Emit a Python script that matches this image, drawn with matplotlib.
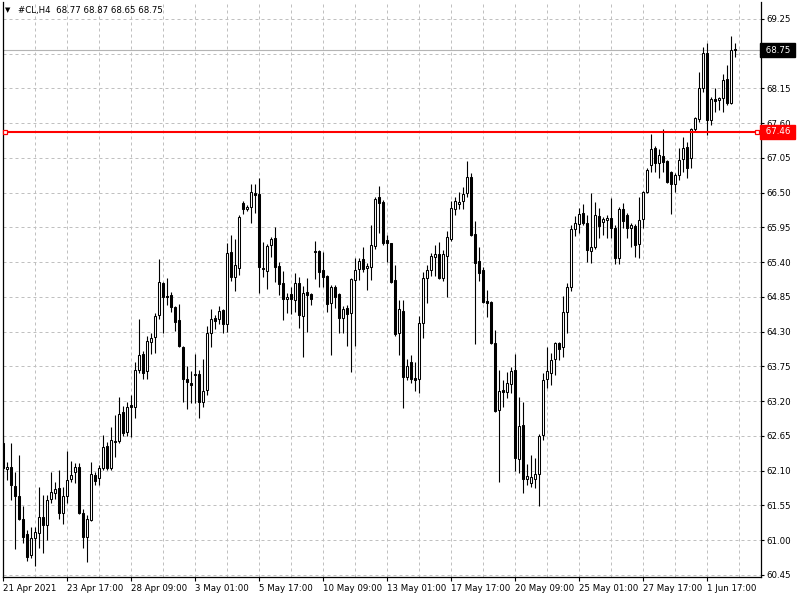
import matplotlib
matplotlib.use('Agg')
import matplotlib.pyplot as plt
import numpy as np

# H4 bars, oldest first
symbol = '#CL,H4'
opens = [62.54, 62.13, 62.16, 61.86, 61.70, 61.34, 61.10, 60.77, 61.04, 61.11,
         61.37, 61.24, 61.65, 61.75, 61.83, 61.43, 61.70, 61.97, 62.08, 62.16,
         61.43, 61.05, 61.32, 62.03, 61.98, 62.14, 62.49, 62.14, 62.57, 62.57,
         63.03, 62.71, 63.14, 63.11, 63.69, 63.95, 63.68, 64.14, 64.22, 64.56,
         65.07, 64.86, 64.88, 64.69, 64.49, 64.06, 63.55, 63.49, 63.61, 63.63,
         63.19, 63.38, 64.28, 64.52, 64.50, 64.64, 64.42, 65.56, 65.17, 65.31,
         66.34, 66.24, 66.27, 66.49, 66.48, 65.31, 65.26, 65.67, 65.78, 65.34,
         65.07, 64.82, 64.90, 64.80, 65.07, 64.55, 64.93, 64.90, 65.58, 65.58,
         65.28, 65.18, 64.75, 65.01, 64.90, 64.52, 64.67, 64.60, 65.12, 65.29,
         65.45, 65.31, 65.32, 65.66, 66.43, 66.35, 65.75, 65.70, 65.12, 64.28,
         64.63, 63.58, 63.82, 63.57, 63.55, 64.44, 65.15, 65.28, 65.48, 65.53,
         65.15, 65.50, 65.77, 66.24, 66.32, 66.37, 66.49, 66.75, 65.85, 65.42,
         65.28, 64.79, 64.77, 64.12, 63.06, 63.38, 63.35, 63.47, 63.69, 62.29,
         62.82, 61.97, 61.91, 61.97, 62.05, 62.67, 63.55, 63.65, 63.87, 64.12,
         64.06, 64.61, 65.01, 65.92, 66.00, 66.18, 66.02, 65.58, 65.64, 66.13,
         66.04, 66.07, 66.10, 65.94, 65.47, 66.24, 66.15, 65.94, 65.97, 65.69,
         66.08, 66.51, 66.94, 67.21, 66.97, 67.08, 67.00, 66.83, 66.64, 66.78,
         67.03, 67.22, 67.05, 67.51, 67.67, 68.16, 68.71, 67.65, 67.98, 67.97,
         68.00, 68.30, 67.92, 68.77]
highs = [62.67, 62.24, 62.54, 62.08, 62.35, 61.54, 61.16, 61.21, 61.21, 61.84,
         61.72, 61.72, 62.08, 61.92, 62.11, 61.84, 62.41, 62.25, 62.22, 62.22,
         61.49, 61.40, 62.24, 62.08, 62.19, 62.67, 62.55, 62.79, 62.98, 63.27,
         63.12, 63.19, 63.30, 63.82, 64.50, 63.99, 64.23, 64.28, 64.60, 65.45,
         65.09, 65.15, 64.93, 64.71, 64.74, 64.08, 63.76, 63.68, 63.95, 63.69,
         63.87, 64.39, 64.66, 64.56, 64.71, 64.66, 65.70, 65.83, 65.77, 66.15,
         66.37, 66.31, 66.64, 66.64, 66.73, 65.72, 65.68, 65.80, 65.96, 65.40,
         65.26, 64.91, 65.01, 65.23, 65.17, 65.02, 65.15, 64.91, 65.74, 65.59,
         65.56, 65.20, 65.04, 65.04, 64.91, 64.71, 64.72, 65.15, 65.47, 65.47,
         65.64, 65.39, 65.99, 66.43, 66.61, 66.38, 65.83, 65.71, 65.36, 64.80,
         64.80, 63.87, 63.93, 63.82, 64.55, 65.24, 65.36, 65.55, 65.67, 65.72,
         65.59, 65.89, 66.37, 66.43, 66.51, 66.59, 67.00, 66.81, 66.05, 65.64,
         65.32, 64.96, 64.78, 64.32, 63.69, 63.54, 63.66, 63.74, 63.95, 63.27,
         63.19, 62.21, 62.35, 62.30, 62.68, 63.65, 64.06, 63.96, 64.14, 64.14,
         64.86, 65.07, 65.99, 66.13, 66.26, 66.32, 66.15, 66.49, 66.35, 66.26,
         66.11, 66.15, 66.42, 65.99, 66.27, 66.34, 66.18, 66.02, 66.00, 66.43,
         66.52, 66.89, 67.43, 67.24, 67.19, 67.51, 67.02, 66.84, 66.81, 67.21,
         67.38, 67.30, 67.52, 67.69, 68.41, 68.80, 68.87, 68.01, 68.16, 68.01,
         68.38, 68.52, 68.98, 68.87]
lows = [61.98, 61.95, 61.64, 60.86, 61.32, 60.96, 60.67, 60.72, 60.59, 60.88,
        60.80, 61.00, 61.59, 61.65, 61.34, 61.26, 61.59, 61.92, 61.91, 61.41,
        60.88, 60.66, 61.31, 61.87, 61.87, 62.11, 62.11, 62.11, 62.32, 62.54,
        62.65, 62.65, 62.63, 62.93, 63.65, 63.55, 63.55, 63.95, 63.96, 64.50,
        64.28, 64.72, 64.61, 64.31, 64.06, 63.19, 63.08, 63.17, 63.17, 62.93,
        63.11, 63.30, 64.06, 64.34, 64.42, 64.28, 64.30, 65.10, 64.94, 65.20,
        66.16, 66.21, 66.02, 66.18, 64.91, 65.17, 64.98, 65.48, 65.09, 64.88,
        64.49, 64.60, 64.58, 64.61, 64.36, 63.90, 64.30, 64.72, 65.13, 65.01,
        65.01, 64.61, 63.93, 64.67, 64.28, 64.28, 64.07, 63.66, 64.07, 65.12,
        65.24, 64.96, 65.12, 65.61, 65.86, 65.67, 65.40, 65.07, 64.23, 63.93,
        63.09, 63.54, 63.49, 63.36, 63.33, 64.20, 64.75, 65.18, 65.18, 65.13,
        65.10, 64.85, 65.74, 66.15, 66.24, 66.24, 66.43, 65.81, 64.10, 65.10,
        64.75, 64.53, 64.10, 63.03, 61.92, 63.11, 63.25, 63.33, 62.10, 62.06,
        61.75, 61.87, 61.84, 61.83, 61.54, 62.59, 63.41, 63.46, 63.61, 63.85,
        63.90, 64.28, 64.94, 65.81, 65.86, 65.99, 65.40, 65.39, 65.61, 65.78,
        65.83, 65.78, 65.78, 65.37, 65.37, 65.94, 65.78, 65.64, 65.48, 65.47,
        65.94, 66.50, 66.83, 66.83, 66.73, 66.83, 66.66, 66.16, 66.51, 66.70,
        66.83, 66.73, 66.89, 67.46, 67.62, 68.09, 67.41, 67.57, 67.78, 67.81,
        67.78, 67.89, 67.90, 68.65]
closes = [62.14, 62.16, 61.87, 61.70, 61.34, 61.05, 60.73, 61.04, 61.13, 61.37,
          61.24, 61.64, 61.76, 61.81, 61.43, 61.70, 61.95, 62.03, 62.16, 61.43,
          61.05, 61.34, 62.05, 61.94, 62.14, 62.48, 62.14, 62.59, 62.55, 63.00,
          62.70, 63.11, 63.11, 63.69, 63.93, 63.65, 64.15, 64.20, 64.55, 65.09,
          64.85, 64.85, 64.69, 64.45, 64.07, 63.55, 63.50, 63.46, 63.63, 63.19,
          63.36, 64.28, 64.50, 64.47, 64.63, 64.42, 65.55, 65.17, 65.36, 66.11,
          66.24, 66.27, 66.51, 66.46, 65.32, 65.29, 65.66, 65.77, 65.32, 65.05,
          64.82, 64.85, 64.82, 65.07, 64.56, 64.91, 64.88, 64.82, 65.56, 65.24,
          65.17, 64.74, 65.01, 64.85, 64.52, 64.66, 64.58, 65.13, 65.28, 65.42,
          65.29, 65.34, 65.67, 66.40, 66.34, 65.70, 65.70, 65.09, 64.26, 64.66,
          63.58, 63.76, 63.55, 63.54, 64.44, 65.15, 65.28, 65.50, 65.53, 65.15,
          65.53, 65.80, 66.26, 66.37, 66.35, 66.48, 66.75, 65.83, 65.39, 65.23,
          64.77, 64.75, 64.12, 63.04, 63.36, 63.35, 63.49, 63.68, 62.30, 62.81,
          61.97, 62.02, 62.00, 62.05, 62.65, 63.54, 63.68, 63.85, 64.12, 64.03,
          64.61, 65.01, 65.92, 66.02, 66.16, 66.02, 65.59, 65.64, 66.15, 65.97,
          66.08, 66.10, 65.94, 65.47, 66.24, 66.05, 65.94, 65.99, 65.67, 66.07,
          66.51, 66.86, 67.19, 66.97, 67.10, 66.99, 66.67, 66.64, 66.78, 67.02,
          67.21, 66.89, 67.51, 67.68, 68.16, 68.71, 67.65, 67.98, 67.95, 68.00,
          68.28, 67.92, 68.76, 68.75]

time_labels = ['21 Apr 2021', '23 Apr 17:00', '28 Apr 09:00', '3 May 01:00',
               '5 May 17:00', '10 May 09:00', '13 May 01:00', '17 May 17:00',
               '20 May 09:00', '25 May 01:00', '27 May 17:00', '1 Jun 17:00']
label_step = 16   # bars between time labels
grid_step = 8     # bars between vertical grid lines

price_ticks = [60.45, 61.00, 61.55, 62.10, 62.65, 63.20, 63.75, 64.30, 64.85,
               65.40, 65.95, 66.50, 67.05, 67.60, 68.15, 68.70, 69.25]
bid = 68.75
level = 67.46

plt.rcParams['font.family'] = 'DejaVu Sans'
fs = 6.2
grid_col = '#c0c0c0'

fig = plt.figure(figsize=(8, 6), dpi=100)
ax = fig.add_axes([3/800, 23/600, 758/800, 575/600])

n = len(opens)
x = np.arange(n)
o = np.array(opens)
c = np.array(closes)

# grid
for p in price_ticks:
    ax.axhline(p, color=grid_col, lw=0.72, ls=(0, (3, 3)), zorder=0)
for gx in range(grid_step, n + 1, grid_step):
    ax.axvline(gx, color=grid_col, lw=0.72, ls=(0, (3, 3)), zorder=0)

# candles
ax.vlines(x, lows, highs, color='black', lw=0.8, zorder=2)
bottoms = np.minimum(o, c)
heights = np.maximum(np.abs(c - o), 0.004)
face = ['white' if cc >= oo else 'black' for oo, cc in zip(o, c)]
ax.bar(x, heights, bottom=bottoms, width=0.5, color=face, edgecolor='black',
       linewidth=0.75, zorder=3)

# bid line and horizontal level
ax.axhline(bid, color='#b4b4b4', lw=0.8, zorder=1)
ax.axhline(level, color='#ff0000', lw=1.5, zorder=4)

ax.set_xlim(-0.075, 189.4)
ax.set_ylim(60.418, 69.516)
x0, x1 = ax.get_xlim()
ax.plot([x0 + 0.45, x1 - 0.9], [level, level], ls='none', marker='s', ms=3.2,
        mfc='white', mec='#ff0000', mew=0.9, zorder=5, clip_on=False)

# axes styling
for side in ['left', 'right', 'bottom']:
    ax.spines[side].set_color('black')
    ax.spines[side].set_linewidth(0.9)
ax.spines['top'].set_visible(False)

ax.yaxis.tick_right()
ax.set_yticks(price_ticks)
ax.set_yticklabels(['%.2f' % p for p in price_ticks])
ax.tick_params(axis='y', direction='out', length=2.5, width=0.8, pad=1.5,
               labelsize=fs, colors='black')
ax.set_xticks(list(range(0, label_step * len(time_labels), label_step)))
ax.set_xticklabels(time_labels, ha='left')
ax.tick_params(axis='x', direction='out', length=3, width=0.8, pad=2,
               labelsize=fs, colors='black')
for lab in ax.get_xticklabels():
    lab.set_horizontalalignment('left')

# price tags on the scale
tr = ax.get_yaxis_transform()
ax.text(1.002, bid, ' %.2f ' % bid, transform=tr, ha='left', va='center',
        fontsize=fs, color='white', zorder=10, clip_on=False,
        bbox=dict(boxstyle='square,pad=0.3', fc='black', ec='black'))
ax.text(1.002, level, ' %.2f ' % level, transform=tr, ha='left', va='center',
        fontsize=fs, color='white', zorder=10, clip_on=False,
        bbox=dict(boxstyle='square,pad=0.3', fc='#ff0000', ec='#ff0000'))

# header
head = '%s  %.2f %.2f %.2f %.2f' % (symbol, opens[-1], highs[-1], lows[-1], closes[-1])
fig.text(5/800, 1 - 10/600, '\u25bc', fontsize=5, va='center', ha='left')
fig.text(18/800, 1 - 10/600, head, fontsize=fs, va='center', ha='left')

fig.savefig('out.png', dpi=100)
